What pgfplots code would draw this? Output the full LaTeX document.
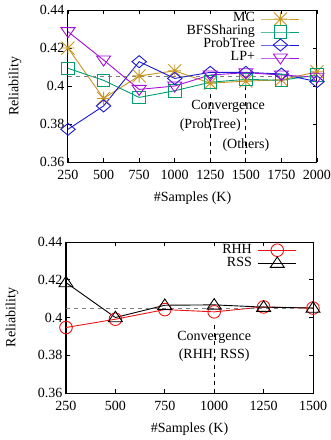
\documentclass[border=0pt]{standalone}
\usepackage{pgfplots}
\pgfplotsset{compat=1.18}
\usepackage{fontspec}
\setmainfont{Liberation Serif}
\definecolor{cmc}{RGB}{200,150,35}
\definecolor{cbfs}{RGB}{0,158,115}
\definecolor{cpt}{RGB}{25,25,215}
\definecolor{clp}{RGB}{165,15,220}
\definecolor{crhh}{RGB}{235,20,20}
\pgfdeclareplotmark{gstar}{%
 \pgfpathmoveto{\pgfqpoint{-\pgfplotmarksize}{0pt}}\pgfpathlineto{\pgfqpoint{\pgfplotmarksize}{0pt}}%
 \pgfpathmoveto{\pgfqpoint{0pt}{-\pgfplotmarksize}}\pgfpathlineto{\pgfqpoint{0pt}{\pgfplotmarksize}}%
 \pgfpathmoveto{\pgfqpoint{-\pgfplotmarksize}{-\pgfplotmarksize}}\pgfpathlineto{\pgfqpoint{\pgfplotmarksize}{\pgfplotmarksize}}%
 \pgfpathmoveto{\pgfqpoint{-\pgfplotmarksize}{\pgfplotmarksize}}\pgfpathlineto{\pgfqpoint{\pgfplotmarksize}{-\pgfplotmarksize}}%
 \pgfusepathqstroke}
\pgfdeclareplotmark{gdiamond}{%
 \pgfpathmoveto{\pgfqpoint{-1.2\pgfplotmarksize}{0pt}}%
 \pgfpathlineto{\pgfqpoint{0pt}{\pgfplotmarksize}}%
 \pgfpathlineto{\pgfqpoint{1.2\pgfplotmarksize}{0pt}}%
 \pgfpathlineto{\pgfqpoint{0pt}{-\pgfplotmarksize}}%
 \pgfpathclose\pgfusepathqstroke}
\pgfdeclareplotmark{gtridown}{%
 \pgfpathmoveto{\pgfqpoint{-\pgfplotmarksize}{0.57\pgfplotmarksize}}%
 \pgfpathlineto{\pgfqpoint{\pgfplotmarksize}{0.57\pgfplotmarksize}}%
 \pgfpathlineto{\pgfqpoint{0pt}{-0.86\pgfplotmarksize}}%
 \pgfpathclose\pgfusepathqstroke}
\pgfdeclareplotmark{gtriup}{%
 \pgfpathmoveto{\pgfqpoint{-\pgfplotmarksize}{-0.6\pgfplotmarksize}}%
 \pgfpathlineto{\pgfqpoint{\pgfplotmarksize}{-0.6\pgfplotmarksize}}%
 \pgfpathlineto{\pgfqpoint{0pt}{0.9\pgfplotmarksize}}%
 \pgfpathclose\pgfusepathqstroke}
\pgfplotsset{
 every axis/.append style={font=\fontsize{14}{16}\selectfont},
 every tick label/.append style={font=\fontsize{14}{16}\selectfont},
 gp/.style={
  scale only axis,
  /pgf/number format/assume math mode=true,
  /pgf/number format/1000 sep={},
  axis line style={line width=1pt},
  major tick length=4pt,
  tick style={black, line width=0.8pt},
  ymin=0.36, ymax=0.44,
  ytick={0.36,0.38,0.40,0.42,0.44},
  yticklabels={0.36,0.38,0.4,0.42,0.44},
  ylabel={Reliability},
  xlabel={\#Samples (K)},
  legend plot pos=right,
  legend cell align=right,
  legend style={draw=none, fill=none, inner sep=0pt, row sep=0pt,
    column sep=6pt, font=\fontsize{14}{16}\selectfont,
    nodes={inner sep=0pt, text height=9.5pt, text depth=3.5pt}},
  legend image code/.code={\draw[mark repeat=2,mark phase=2] plot coordinates {(0pt,0pt)(19pt,0pt)(38pt,0pt)};},
 },
 ser/.style={line width=0.9pt, mark options={solid, line width=0.9pt}},
}
\begin{document}
\begin{tikzpicture}[font=\fontsize{14}{16}\selectfont]
\path[use as bounding box] (0pt,0pt) rectangle (331pt,-440pt);
\begin{axis}[gp,
 at={(68pt,-162pt)}, anchor=south west,
 width=249pt, height=152pt,
 xmin=250, xmax=2000,
 xtick={250,500,750,1000,1250,1500,1750,2000},
 xticklabel style={yshift=-5pt},
 ylabel style={at={(axis description cs:-0.213,0.5)},anchor=center},
 xlabel style={at={(axis description cs:0.5,-0.237)},anchor=center},
 legend style={at={(0.932,0.985)}, anchor=north east},
]
\addplot[ser, cmc, mark=gstar, mark size=6.5pt] coordinates {
 (250,0.420) (500,0.3935) (750,0.4053) (1000,0.4080) (1250,0.4015) (1500,0.4026) (1750,0.4032) (2000,0.4075)};
\addlegendentry{MC}
\addplot[ser, cbfs, mark=square, mark size=6.3pt] coordinates {
 (250,0.4093) (500,0.4030) (750,0.3940) (1000,0.3975) (1250,0.4020) (1500,0.4035) (1750,0.4030) (2000,0.4058)};
\addlegendentry{BFSSharing}
\addplot[ser, cpt, mark=gdiamond, mark size=6pt] coordinates {
 (250,0.3772) (500,0.3895) (750,0.4128) (1000,0.4040) (1250,0.4072) (1500,0.4072) (1750,0.4063) (2000,0.4023)};
\addlegendentry{ProbTree}
\addplot[ser, clp, mark=gtridown, mark size=7pt] coordinates {
 (250,0.4286) (500,0.4137) (750,0.3982) (1000,0.4000) (1250,0.4058) (1500,0.4070) (1750,0.4058) (2000,0.4046)};
\addlegendentry{LP+}
\addplot[gray, line width=0.9pt, dash pattern=on 4pt off 4pt, forget plot] coordinates {(250,0.405) (2000,0.405)};
\addplot[black, line width=0.8pt, dash pattern=on 4pt off 4pt, forget plot] coordinates {(1250,0.36) (1250,0.396)};
\addplot[black, line width=0.8pt, dash pattern=on 4pt off 4pt, forget plot] coordinates {(1500,0.36) (1500,0.400)};
\node at (axis cs:1375,0.3895) {Convergence};
\node at (axis cs:1250,0.3795) {(ProbTree)};
\node at (axis cs:1500,0.369) {(Others)};
\end{axis}
\begin{axis}[gp,
 at={(66pt,-393pt)}, anchor=south west,
 width=247pt, height=151pt,
 xmin=250, xmax=1500,
 xtick={250,500,750,1000,1250,1500},
 xticklabel style={yshift=-4.5pt},
 ylabel style={at={(axis description cs:-0.219,0.5)},anchor=center},
 xlabel style={at={(axis description cs:0.5,-0.238)},anchor=center},
 legend style={at={(0.935,0.99)}, anchor=north east},
]
\addplot[ser, crhh, mark=o, mark size=6.3pt] coordinates {
 (250,0.3947) (500,0.3991) (750,0.4042) (1000,0.4030) (1250,0.4056) (1500,0.4050)};
\addlegendentry{RHH}
\addplot[ser, black, mark=gtriup, mark size=7pt] coordinates {
 (250,0.4185) (500,0.4000) (750,0.4065) (1000,0.4067) (1250,0.4055) (1500,0.4050)};
\addlegendentry{RSS}
\addplot[gray, line width=0.9pt, dash pattern=on 4pt off 4pt, forget plot] coordinates {(250,0.405) (1500,0.405)};
\addplot[black, line width=0.8pt, dash pattern=on 4pt off 4pt, forget plot] coordinates {(1000,0.36) (1000,0.396)};
\node at (axis cs:1000,0.3897) {Convergence};
\node at (axis cs:1000,0.380) {(RHH, RSS)};
\end{axis}
\end{tikzpicture}
\end{document}
